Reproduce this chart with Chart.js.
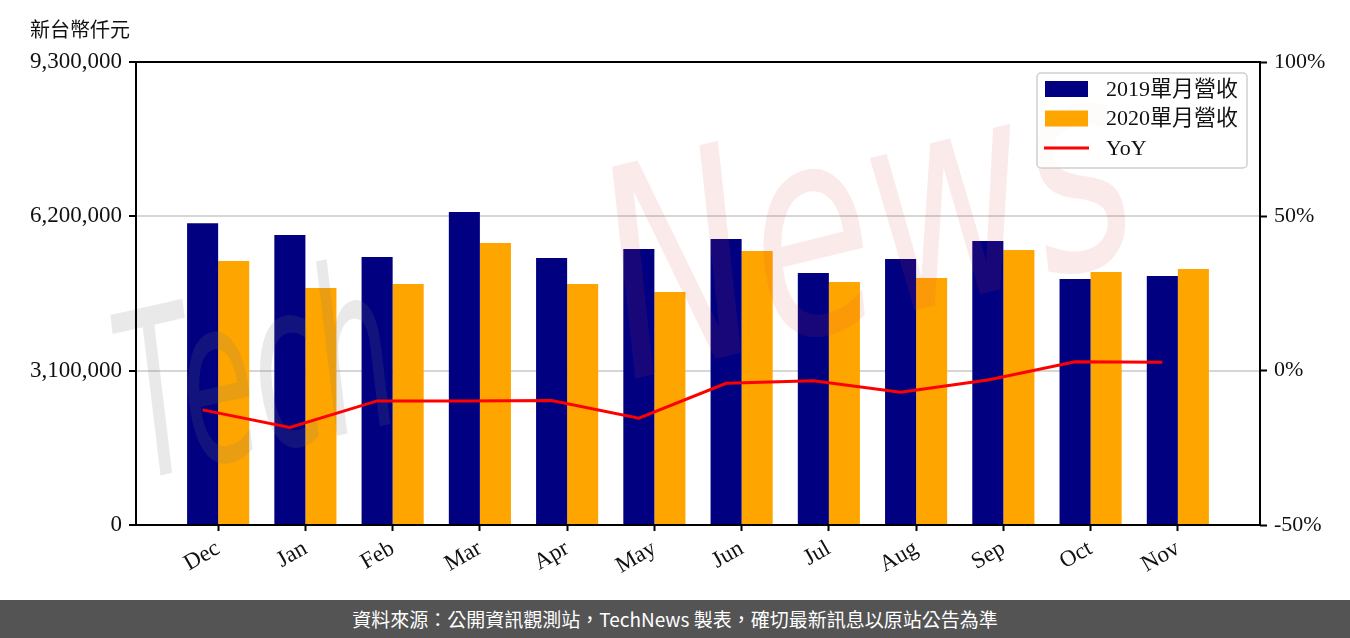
<!DOCTYPE html>
<html>
<head>
<meta charset="utf-8">
<script src="https://cdn.jsdelivr.net/npm/chart.js@4"></script>
<style>
  body { margin: 0; background: #fff; overflow: hidden; width: 1350px; height: 638px; position: relative; }
  #unit { position: absolute; left: 30px; top: 14px; font: 20px "Noto Sans CJK TC", sans-serif; color: #111; }
  #footer { position: absolute; left: 0; top: 600px; width: 1350px; height: 38px; background: #545454;
            color: #fff; font: 19px "Noto Sans CJK TC", sans-serif; text-align: center; line-height: 38px; }
  canvas { position: absolute; left: 0; top: 0; }
</style>
</head>
<body>
<canvas id="revChart" width="1350" height="600"></canvas>
<div id="unit">新台幣仟元</div>
<div id="footer">資料來源：公開資訊觀測站，TechNews 製表，確切最新訊息以原站公告為準</div>
<script>
const months = ['Dec', 'Jan', 'Feb', 'Mar', 'Apr', 'May', 'Jun', 'Jul', 'Aug', 'Sep', 'Oct', 'Nov'];
const rev2019 = [6060000, 5825000, 5383000, 6287000, 5363000, 5544000, 5745000, 5062000, 5343000, 5704000, 4941000, 5001000];
const rev2020 = [5303000, 4760000, 4841000, 5664000, 4841000, 4680000, 5504000, 4881000, 4961000, 5524000, 5082000, 5142000];
const yoy = [-12.7, -18.4, -9.8, -9.8, -9.7, -15.4, -4.1, -3.3, -7.0, -3.0, 2.9, 2.7];
const leftTicks = [0, 3100000, 6200000, 9300000];
const rightTicks = [-50, 0, 50, 100];

const serif = '"Liberation Serif", "Noto Sans CJK TC", serif';
const groupWidth = 0.712;   // share of one category used by the two bars

const ctx = document.getElementById('revChart').getContext('2d');

// watermark, drawn just before the YoY line
const watermark = {
  id: 'watermark',
  beforeDatasetDraw(chart, args) {
    if (args.index !== 2) return;
    const c = chart.ctx;
    c.save();
    c.font = 'italic 230px "DejaVu Sans"';
    c.fillStyle = 'rgba(120,120,120,0.16)';
    c.translate(140, 480);
    c.rotate(-0.22);
    c.scale(0.52, 1);
    c.fillText('Tech', 0, 0);
    c.restore();

    c.save();
    c.font = 'italic 290px "DejaVu Sans"';
    c.fillStyle = 'rgba(220,60,60,0.11)';
    c.translate(630, 380);
    c.rotate(-0.24);
    c.scale(0.68, 1);
    c.fillText('News', 0, 0);
    c.restore();
  }
};

// black frame round the plot and the legend box
const frameAndLegend = {
  id: 'frameAndLegend',
  afterDraw(chart) {
    const c = chart.ctx;
    const a = chart.chartArea;
    c.save();
    c.strokeStyle = '#000';
    c.lineWidth = 2;
    c.strokeRect(a.left, a.top, a.right - a.left, a.bottom - a.top);

    const bx = 1037, by = 73, bw = 210, bh = 95;
    c.beginPath();
    c.roundRect(bx, by, bw, bh, 4);
    c.fillStyle = 'rgba(255,255,255,0.8)';
    c.fill();
    c.strokeStyle = '#d0d0d0';
    c.lineWidth = 1.5;
    c.stroke();

    c.font = '22px ' + serif;
    c.textBaseline = 'middle';
    chart.data.datasets.forEach((ds, i) => {
      const y = 89 + i * 29.5;
      if (ds.type === 'line') {
        c.fillStyle = ds.borderColor;
        c.fillRect(1044, y - 1.5, 45, 3);
      } else {
        c.fillStyle = ds.backgroundColor;
        c.fillRect(1045, y - 8, 43, 16);
      }
      c.fillStyle = '#111';
      c.fillText(ds.label, 1106, y + 1);
    });
    c.restore();
  }
};

const revChart = new Chart(ctx, {
  type: 'bar',
  data: {
    datasets: [
      {
        label: '2019單月營收',
        data: rev2019.map((v, i) => ({ x: i, y: v })),
        backgroundColor: '#000080',
        yAxisID: 'y',
        order: 1
      },
      {
        label: '2020單月營收',
        data: rev2020.map((v, i) => ({ x: i, y: v })),
        backgroundColor: '#FFA500',
        yAxisID: 'y',
        order: 1
      },
      {
        type: 'line',
        label: 'YoY',
        data: yoy.map((v, i) => ({ x: i - groupWidth / 4, y: v })),
        borderColor: '#FF0000',
        borderWidth: 3,
        pointRadius: 0,
        tension: 0,
        yAxisID: 'y1',
        order: 0
      }
    ]
  },
  options: {
    responsive: false,
    animation: false,
    devicePixelRatio: 1,
    layout: { padding: { top: 62, left: 0, right: 0, bottom: 0 } },
    datasets: {
      bar: { categoryPercentage: groupWidth, barPercentage: 1.0 }
    },
    scales: {
      x: {
        type: 'linear',
        position: 'bottom',
        offset: false,
        min: -0.9416,
        max: 11.9416,
        afterBuildTicks: (scale) => { scale.ticks = months.map((m, i) => ({ value: i })); },
        afterFit: (scale) => { scale.height = 75; },
        ticks: {
          autoSkip: false,
          minRotation: 30,
          maxRotation: 30,
          padding: 4,
          color: '#111',
          font: { family: serif, size: 23 },
          callback: (v) => months[v]
        },
        grid: { offset: false, drawOnChartArea: false, tickLength: 6, tickColor: '#000', tickWidth: 2 },
        border: { display: false }
      },
      y: {
        position: 'left',
        min: 0,
        max: 9300000,
        afterBuildTicks: (scale) => { scale.ticks = leftTicks.map(v => ({ value: v })); },
        afterFit: (scale) => { scale.width = 136; },
        ticks: {
          padding: 7,
          color: '#111',
          font: { family: serif, size: 23 },
          callback: (v) => v.toLocaleString('en-US')
        },
        grid: {
          color: (c) => (c.tick && (c.tick.value === 0 || c.tick.value === 9300000)) ? 'rgba(0,0,0,0)' : '#d6d6d6',
          lineWidth: 2,
          tickLength: 7,
          tickColor: '#000',
          tickWidth: 2
        },
        border: { display: false }
      },
      y1: {
        position: 'right',
        min: -50,
        max: 100,
        afterBuildTicks: (scale) => { scale.ticks = rightTicks.map(v => ({ value: v })); },
        afterFit: (scale) => { scale.width = 90; },
        ticks: {
          padding: 7,
          color: '#111',
          font: { family: serif, size: 22 },
          callback: (v) => v + '%'
        },
        grid: { drawOnChartArea: false, tickLength: 7, tickColor: '#000', tickWidth: 2 },
        border: { display: false }
      }
    },
    plugins: {
      legend: { display: false },
      tooltip: { enabled: false }
    }
  },
  plugins: [watermark, frameAndLegend]
});
</script>
</body>
</html>
